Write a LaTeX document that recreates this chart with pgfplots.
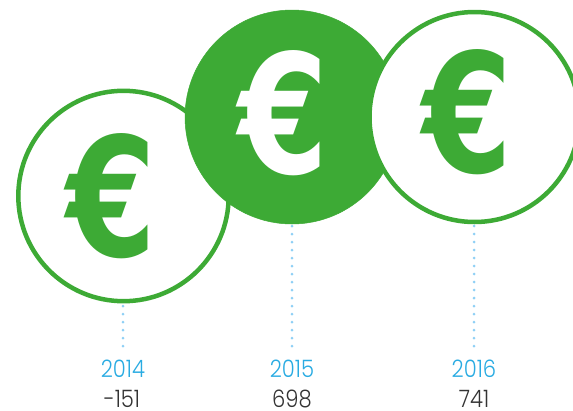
\documentclass[border=0pt]{standalone}
\usepackage{fontspec}
\setmainfont[FakeStretch=0.88]{Poppins Light}
\newfontfamily\eurofont{DejaVu Sans}
\usepackage{pgfplots}
\usepackage{pgfplotstable}
\pgfplotsset{compat=1.18}
\definecolor{egreen}{HTML}{3DAA35}
\definecolor{eblue}{HTML}{29ABE2}
\definecolor{edot}{HTML}{8FD0F5}
\definecolor{etext}{HTML}{333333}

% axis runs in picture pixels, y downwards
\pgfplotstableread{
x y label
123 369 2014
292 369 2015
474 369 2016
}\yearlabels
\pgfplotstableread{
x y label
122 398.5 -151
292 398.5 698
474 398.5 741
}\valuelabels

\pgfplotsset{
  euro/.style={only marks, mark=none, nodes near coords={\resizebox{90pt}{123pt}{\eurofont\bfseries €}},
    every node near coord/.append style={anchor=center, inner sep=0pt, text=#1}},
  rowlabel/.style={only marks, mark=none, point meta=explicit symbolic, nodes near coords,
    every node near coord/.append style={anchor=center, inner sep=0pt, text=#1, font=\fontsize{24}{24}\selectfont}},
  dots/.style={edot, line width=3pt, line cap=round, dash pattern=on 0pt off 8pt},
}

\begin{document}
\begin{tikzpicture}
\path[use as bounding box] (0,0) rectangle (573pt,410pt);
\clip (0,0) rectangle (573pt,410pt);
\begin{axis}[
    at={(0,0)}, anchor=south west,
    width=573pt, height=410pt, scale only axis,
    xmin=0, xmax=573, ymin=0, ymax=410, y dir=reverse,
    hide axis, clip=false,
]
\addplot[dots] coordinates {(123,346) (123,305)};
\addplot[dots] coordinates {(292,346) (292,226)};
\addplot[dots] coordinates {(474,346) (474,226)};

\addplot[only marks, mark=*, mark size=105.2pt, mark options={draw=egreen, fill=white, line width=4.5pt}]
  coordinates {(123.5,196)};
\addplot[euro=egreen] coordinates {(112,196.5)};

\addplot[only marks, mark=*, mark size=107pt, mark options={draw=egreen, fill=egreen, line width=0.5pt}]
  coordinates {(292,117)};
\addplot[euro=white] coordinates {(284,113.5)};

\addplot[only marks, mark=*, mark size=105pt, mark options={draw=egreen, fill=white, line width=4.5pt}]
  coordinates {(474.5,117)};
\addplot[euro=egreen] coordinates {(468,112)};

\addplot[rowlabel=eblue] table[x=x, y=y, meta=label] {\yearlabels};
\addplot[rowlabel=etext] table[x=x, y=y, meta=label] {\valuelabels};
\end{axis}
\end{tikzpicture}
\end{document}
